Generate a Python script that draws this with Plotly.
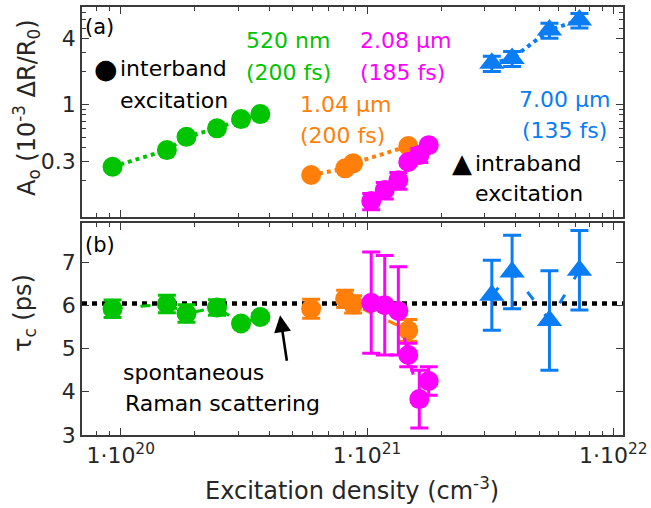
import plotly.graph_objects as go

# ---------------- data ----------------
green_x = [9.27e19, 1.54e20, 1.85e20, 2.46e20, 3.08e20, 3.69e20]
green_amp = [0.268, 0.381, 0.504, 0.603, 0.733, 0.815]
green_tau = [5.92, 6.03, 5.81, 5.95, 5.58, 5.73]
green_tau_err = [0.2, 0.2, 0.2, 0.18, 0.08, 0.08]

orange_x = [5.93e20, 8.15e20, 8.78e20, 1.47e21]
orange_amp = [0.225, 0.259, 0.288, 0.415]
orange_tau = [5.92, 6.15, 6.02, 5.42]
orange_tau_err = [0.22, 0.2, 0.2, 0.25]

magenta_x = [1.04e21, 1.18e21, 1.34e21, 1.47e21, 1.63e21, 1.78e21]
magenta_amp = [0.130, 0.164, 0.202, 0.296, 0.343, 0.423]
magenta_amp_err = [0.022, 0.028, 0.035, 0.02, 0.05, 0.02]
magenta_tau = [6.06, 6.0, 5.87, 4.85, 3.83, 4.25]
magenta_tau_err = [1.17, 1.15, 1.02, 0.27, 0.67, 0.33]

blue_x = [3.21e21, 3.88e21, 5.50e21, 7.28e21]
blue_amp = [2.38, 2.64, 4.8, 5.93]
blue_amp_err = [0.38, 0.42, 0.75, 0.9]
blue_tau = [6.23, 6.77, 5.65, 6.81]
blue_tau_err = [0.81, 0.85, 1.15, 0.92]

raman_tau = 6.04

x_tickvals = [1e20, 1e21, 1e22]
x_ticktext = ["1·10<sup>20</sup>", "1·10<sup>21</sup>", "1·10<sup>22</sup>"]
amp_tickvals = [0.3, 1, 4]
amp_ticktext = ["0.3", "1", "4"]
tau_tickvals = [3, 4, 5, 6, 7]

# ---------------- styling ----------------
FONT = "DejaVu Sans"
GREEN = "#00C400"
ORANGE = "#FF7F0A"
MAGENTA = "#FF00FF"
BLUE = "#0A7DF5"
AXC = "#3a3a3a"
TXT = "#262626"

W, H = 651, 508
L, R, T, B = 82, 28, 7, 73
PW, PH = W - L - R, H - T - B


def fx(px):
    return (px - L) / PW


def fy(py):
    return (H - B - py) / PH


fig = go.Figure()


def add_series(x, y, err, color, symbol, top):
    fig.add_trace(go.Scatter(
        x=x, y=y, mode="lines+markers",
        line=dict(color=color, width=4 if top else 3,
                  dash="4px,4px" if top else "10px,18px"),
        marker=dict(symbol=symbol, size=20 if symbol == "circle" else 22,
                    color=color, line=dict(width=0)),
        error_y=dict(type="data", array=err if err is not None else [0] * len(y),
                     visible=err is not None, color=color, thickness=3, width=9),
        xaxis="x" if top else "x2", yaxis="y" if top else "y2",
        showlegend=False, hoverinfo="x+y"))


# top panel
add_series(green_x, green_amp, None, GREEN, "circle", True)
add_series(orange_x, orange_amp, None, ORANGE, "circle", True)
add_series(magenta_x, magenta_amp, magenta_amp_err, MAGENTA, "circle", True)
add_series(blue_x, blue_amp, blue_amp_err, BLUE, "triangle-up", True)
# bottom panel
add_series(green_x, green_tau, green_tau_err, GREEN, "circle", False)
add_series(orange_x, orange_tau, orange_tau_err, ORANGE, "circle", False)
add_series(magenta_x, magenta_tau, magenta_tau_err, MAGENTA, "circle", False)
add_series(blue_x, blue_tau, blue_tau_err, BLUE, "triangle-up", False)

x_minor = [float(k) * 10.0 ** e for e in (19, 20, 21) for k in range(2, 10)]
y_minor = [float(k) * 10.0 ** e for e in (-2, -1, 0) for k in range(2, 10)]

common_axis = dict(showline=True, linecolor=AXC, linewidth=1.6, mirror="allticks",
                   ticks="inside", tickcolor=AXC, tickwidth=1.3, ticklen=7,
                   showgrid=False, zeroline=False,
                   tickfont=dict(family=FONT, size=22, color=TXT))

xcommon = dict(common_axis, type="log", range=[19.843, 22.039],
               tickmode="array", tickvals=x_tickvals, ticktext=x_ticktext,
               minor=dict(tickmode="array", tickvals=x_minor, ticks="inside",
                          ticklen=4, tickcolor=AXC, tickwidth=1.2, showgrid=False))

fig.update_layout(
    width=W, height=H,
    margin=dict(l=L, r=R, t=T, b=B, autoexpand=False),
    paper_bgcolor="white", plot_bgcolor="white",
    font=dict(family=FONT, size=22, color="black"),
    xaxis=dict(xcommon, domain=[0, 1], anchor="y", showticklabels=False),
    xaxis2=dict(xcommon, domain=[0, 1], anchor="y2", matches="x", showticklabels=True),
    yaxis=dict(common_axis, type="log", range=[-1.034, 0.893], domain=[0.509, 1],
               anchor="x", tickmode="array", tickvals=amp_tickvals, ticktext=amp_ticktext,
               minor=dict(tickmode="array", tickvals=y_minor, ticks="inside",
                          ticklen=4, tickcolor=AXC, tickwidth=1.2, showgrid=False)),
    yaxis2=dict(common_axis, range=[3, 7.9], domain=[0, 0.495], anchor="x2",
                tickmode="array", tickvals=tau_tickvals),
)

# spontaneous Raman reference line
fig.add_shape(type="line", xref="x2 domain", yref="y2", x0=0, x1=1,
              y0=raman_tau, y1=raman_tau, layer="below",
              line=dict(color="black", width=4.5, dash="5px,5px"))

ann = []


def text(s, px, py, color="black", size=22, xanchor="left", angle=0):
    ann.append(dict(text=s, x=fx(px), y=fy(py), xref="paper", yref="paper",
                    xanchor=xanchor, yanchor="middle", showarrow=False,
                    textangle=angle, font=dict(family=FONT, size=size, color=color)))


text("(a)", 83, 27, size=21)
text("(b)", 83, 245, size=21)
text("520 nm", 244, 41, GREEN, 22)
text("(200 fs)", 244, 72, GREEN, 22)
text("2.08 µm", 358, 40, MAGENTA, 22)
text("(185 fs)", 358, 72, MAGENTA, 22)
text("1.04 µm", 298, 105, ORANGE, 22)
text("(200 fs)", 298, 136, ORANGE, 22)
text("7.00 µm", 517, 99, BLUE, 22)
text("(135 fs)", 520, 130, BLUE, 22)
text("●", 106, 68, "black", 27, xanchor="center")
text("interband", 118, 69, size=22)
text("excitation", 118, 100, size=22)
text("▲", 462, 163, "black", 26, xanchor="center")
text("intraband", 473, 164, size=22)
text("excitation", 473, 193, size=22)
text("spontaneous", 121, 372, size=22)
text("Raman scattering", 123, 403, size=22)
text("Excitation density (cm<sup>-3</sup>)", 352, 489, TXT, 24, xanchor="center")
text("A<sub>o</sub> (10<sup>-3</sup> ΔR/R<sub>0</sub>)", 26, 108, TXT, 24,
     xanchor="center", angle=-90)
text("τ<sub>c</sub> (ps)", 24, 313, TXT, 24, xanchor="center", angle=-90)

# arrow pointing at the Raman line
ann.append(dict(x=20.647, y=5.77, xref="x2", yref="y2", ax=7, ay=47,
                axref="pixel", ayref="pixel", text="", showarrow=True,
                arrowhead=2, arrowsize=1.3, arrowwidth=2.6, arrowcolor="black"))

fig.update_layout(annotations=ann)

fig.write_html("out.html", config={"displayModeBar": False},
               post_script="document.body.style.margin='0';document.body.style.overflow='hidden';")
